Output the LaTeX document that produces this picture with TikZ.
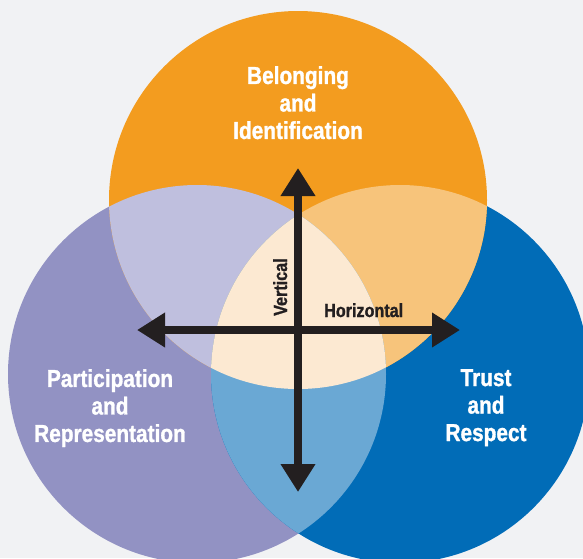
\documentclass[tikz,border=0pt]{standalone}
\usepackage{fontspec}
\setmainfont{Liberation Sans}[FakeStretch=0.85, BoldFeatures={FakeBold=1.2}]
\usetikzlibrary{arrows.meta}
\definecolor{bg}{HTML}{F1F2F4}
\definecolor{orng}{HTML}{F39C1F}
\definecolor{purp}{HTML}{9292C3}
\definecolor{blu}{HTML}{016CB7}
\definecolor{lav}{HTML}{BFBFDE}
\definecolor{lorng}{HTML}{F7C47B}
\definecolor{lblu}{HTML}{6AA8D4}
\definecolor{cream}{HTML}{FCE9D2}
\definecolor{ink}{HTML}{231F20}
\tikzset{
  biglabel/.style={text=white, font=\bfseries\fontsize{24.5}{27.5}\selectfont, align=center, inner sep=0pt, anchor=north},
  smalllabel/.style={text=ink, font=\bfseries\fontsize{19}{22}\selectfont, inner sep=0pt},
  axisarrow/.style={draw=ink, line width=8pt, -{Triangle[length=28pt,width=33pt]}},
}
\begin{document}
\begin{tikzpicture}[x=1pt,y=-1pt]
\useasboundingbox (0,0) rectangle (583,558);
\fill[bg] (0,0) rectangle (583,558);
\clip (0,0) rectangle (583,558);
\def\R{189}
\coordinate (O) at (298,200);
\coordinate (P) at (197,374);
\coordinate (B) at (400,374);
% base circles
\fill[purp] (P) circle (\R);
\fill[blu] (B) circle (\R);
\fill[orng] (O) circle (\R);
% pairwise overlaps
\begin{scope}\clip (O) circle (\R); \fill[lav] (P) circle (\R); \end{scope}
\begin{scope}\clip (O) circle (\R); \fill[lorng] (B) circle (\R); \end{scope}
\begin{scope}\clip (P) circle (\R); \fill[lblu] (B) circle (\R); \end{scope}
% triple overlap
\begin{scope}\clip (O) circle (\R); \clip (P) circle (\R); \fill[cream] (B) circle (\R); \end{scope}
% axes
\coordinate (vt) at (298,168);
\coordinate (vb) at (298,492);
\coordinate (hl) at (137,330);
\coordinate (hr) at (460,330);
\coordinate (c) at (298,330);
\draw[axisarrow] (c) -- (vt);
\draw[axisarrow] (c) -- (vb);
\draw[axisarrow] (c) -- (hl);
\draw[axisarrow] (c) -- (hr);
% labels
\node[biglabel] (top) at (298,66) {Belonging\\and\\Identification};
\node[biglabel] (left) at (110,369) {Participation\\and\\Representation};
\node[biglabel] (right) at (486,369) {Trust\\and\\Respect};
\node[smalllabel, anchor=base west] (hor) at (324,317) {Horizontal};
\node[smalllabel, anchor=base west, rotate=90] (ver) at (287,316) {Vertical};
\end{tikzpicture}
\end{document}
